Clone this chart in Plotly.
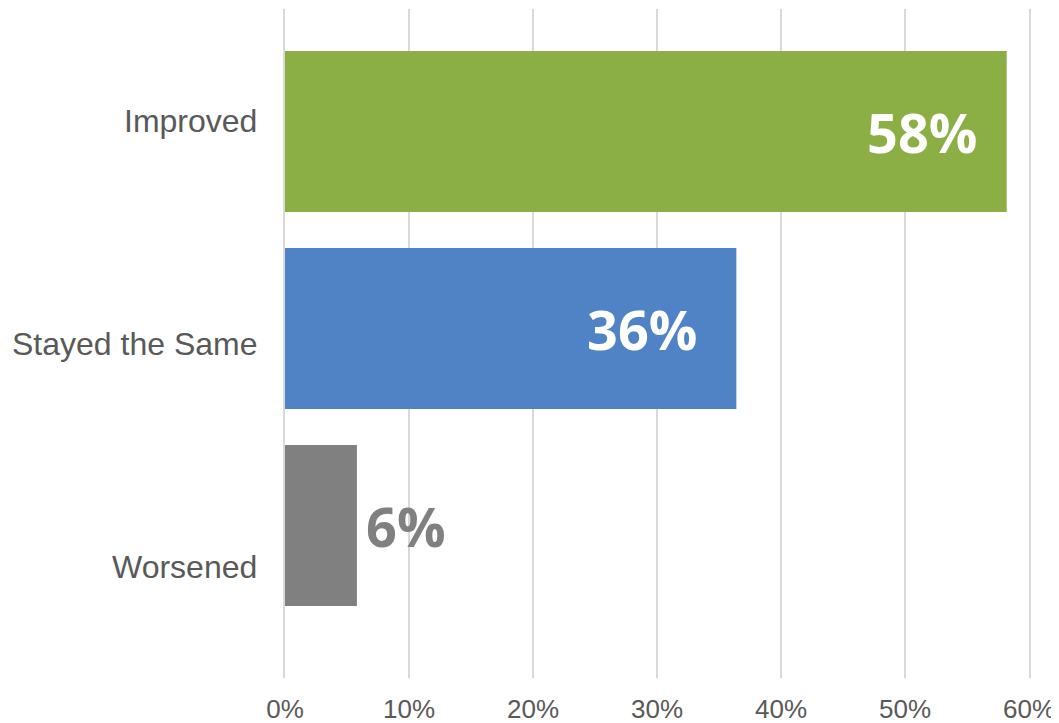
import plotly.graph_objects as go

categories = ["Improved", "Stayed the Same", "Worsened"]
values = [0.582, 0.364, 0.058]
bar_colors = ["#8BAF45", "#4F83C6", "#808080"]
label_colors = ["#FFFFFF", "#FFFFFF", "#808080"]
label_inside = [True, True, False]
label_xshift = [-28, -37, 7]
cat_label_yshift = [11, -15, -41]
x_ticks = [0, 0.1, 0.2, 0.3, 0.4, 0.5, 0.6]
x_ticktext = ["0%", "10%", "20%", "30%", "40%", "50%", "60%"]

fig = go.Figure()
fig.add_trace(go.Bar(
    y=categories, x=values, orientation="h",
    marker=dict(color=bar_colors, line=dict(width=0)),
    width=0.817, hoverinfo="skip",
))

annotations = []
for cat, v, col, inside, xs in zip(categories, values, label_colors, label_inside, label_xshift):
    annotations.append(dict(
        x=v, y=cat, xref="x", yref="y",
        text=f"{v:.0%}", showarrow=False,
        xanchor="right" if inside else "left", yanchor="middle",
        xshift=xs,
        font=dict(family="Open Sans", size=54, color=col, weight=700),
    ))
for cat, ys in zip(categories, cat_label_yshift):
    annotations.append(dict(
        x=0, y=cat, xref="paper", yref="y",
        text=cat, showarrow=False, xanchor="right", yanchor="middle",
        xshift=-26, yshift=ys,
        font=dict(family="Arial, Liberation Sans", size=32, color="#595959"),
    ))

# page body has an 8px margin, so the figure is sized/margined to compensate
fig.update_layout(
    width=1051, height=715,
    margin=dict(l=277, r=30, t=1, b=45),
    paper_bgcolor="white", plot_bgcolor="white",
    showlegend=False,
    annotations=annotations,
    xaxis=dict(
        range=[0, 0.6], tickvals=x_ticks, ticktext=x_ticktext,
        showgrid=True, gridcolor="#D9D9D9", gridwidth=2,
        zeroline=False, showline=False, automargin=False,
        ticks="", ticklabelstandoff=13,
        tickfont=dict(family="Arial, Liberation Sans", size=26, color="#595959"),
    ),
    yaxis=dict(
        range=[2.774, -0.622], showticklabels=False, showgrid=False,
        zeroline=False, automargin=False,
        showline=True, linecolor="#D9D9D9", linewidth=2, mirror=True,
    ),
)

fig.write_html("out.html")
